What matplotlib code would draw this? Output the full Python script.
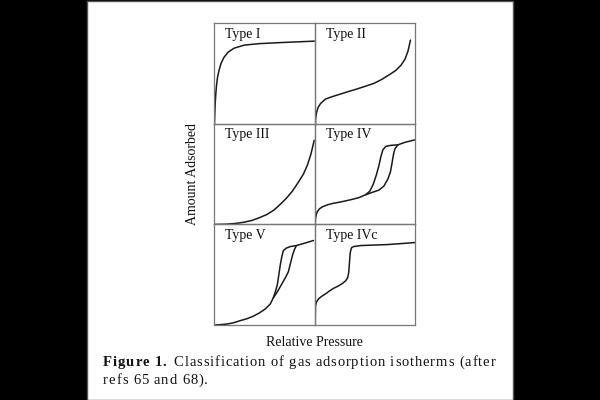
import matplotlib.pyplot as plt
from matplotlib.patches import Rectangle

plt.rcParams['font.family'] = ['Liberation Serif', 'DejaVu Serif']

# isotherm traces: relative pressure (0..1) vs amount adsorbed (0..1)
type1_x = [0.005, 0.008, 0.012, 0.018, 0.025, 0.035, 0.05, 0.07, 0.10, 0.14, 0.20, 0.30, 0.45, 0.65, 1.0]
type1_y = [0.0, 0.10, 0.20, 0.30, 0.38, 0.46, 0.53, 0.60, 0.66, 0.71, 0.75, 0.78, 0.795, 0.805, 0.82]

type2_x = [0.008, 0.012, 0.02, 0.035, 0.06, 0.11, 0.18, 0.26, 0.34, 0.42, 0.50, 0.59, 0.67, 0.75,
           0.81, 0.86, 0.90, 0.93, 0.955]
type2_y = [0.0, 0.06, 0.11, 0.16, 0.20, 0.245, 0.27, 0.295, 0.32, 0.344, 0.37, 0.40, 0.44, 0.49,
           0.53, 0.58, 0.64, 0.72, 0.83]

type3_x = [0.01, 0.12, 0.22, 0.30, 0.38, 0.46, 0.53, 0.60, 0.66, 0.72, 0.78, 0.84, 0.89, 0.93, 0.965, 0.997]
type3_y = [0.0, 0.002, 0.01, 0.022, 0.04, 0.07, 0.10, 0.145, 0.20, 0.26, 0.33, 0.42, 0.50, 0.59, 0.70, 0.835]

# Type IV: adsorption branch (right) and desorption branch (left)
type4_ads_x = [0.007, 0.01, 0.018, 0.03, 0.05, 0.08, 0.13, 0.19, 0.27, 0.36, 0.44, 0.51, 0.58, 0.64,
               0.69, 0.73, 0.755, 0.77, 0.785, 0.80, 0.83, 0.90, 1.0]
type4_ads_y = [0.0, 0.06, 0.10, 0.13, 0.155, 0.175, 0.195, 0.21, 0.225, 0.245, 0.265, 0.295, 0.32, 0.34,
               0.38, 0.45, 0.52, 0.60, 0.69, 0.75, 0.79, 0.815, 0.84]
type4_des_x = [0.51, 0.55, 0.585, 0.615, 0.64, 0.66, 0.68, 0.71, 0.76, 0.83]
type4_des_y = [0.295, 0.33, 0.40, 0.49, 0.58, 0.67, 0.74, 0.775, 0.785, 0.79]

# Type V: adsorption branch (right) and desorption branch (left)
type5_ads_x = [0.0, 0.06, 0.126, 0.19, 0.26, 0.33, 0.39, 0.45, 0.51, 0.56, 0.59, 0.63, 0.67, 0.71,
               0.74, 0.76, 0.78, 0.80, 0.82, 0.89, 0.99]
type5_ads_y = [0.0, 0.004, 0.01, 0.022, 0.044, 0.064, 0.088, 0.12, 0.16, 0.21, 0.27, 0.33, 0.40, 0.47,
               0.53, 0.61, 0.69, 0.75, 0.79, 0.81, 0.84]
type5_des_x = [0.59, 0.61, 0.63, 0.645, 0.66, 0.675, 0.69, 0.72, 0.76, 0.82]
type5_des_y = [0.27, 0.33, 0.40, 0.50, 0.60, 0.68, 0.74, 0.765, 0.78, 0.79]

type4c_x = [0.007, 0.008, 0.01, 0.02, 0.04, 0.07, 0.11, 0.15, 0.19, 0.24, 0.28, 0.31, 0.33, 0.34,
            0.345, 0.35, 0.355, 0.36, 0.37, 0.39, 0.46, 0.60, 0.73, 0.87, 1.0]
type4c_y = [0.0, 0.10, 0.19, 0.23, 0.26, 0.285, 0.31, 0.34, 0.365, 0.39, 0.415, 0.44, 0.47, 0.52,
            0.58, 0.65, 0.71, 0.74, 0.77, 0.78, 0.79, 0.795, 0.80, 0.81, 0.82]

titles = ['Type I', 'Type II', 'Type III', 'Type IV', 'Type V', 'Type IVc']
curves = [
    [(type1_x, type1_y)],
    [(type2_x, type2_y)],
    [(type3_x, type3_y)],
    [(type4_ads_x, type4_ads_y), (type4_des_x, type4_des_y)],
    [(type5_ads_x, type5_ads_y), (type5_des_x, type5_des_y)],
    [(type4c_x, type4c_y)],
]

W, H = 600, 400
fig = plt.figure(figsize=(6, 4), dpi=100, facecolor='black')

# white page strip in the middle (kept behind the axes)
fig.patches.append(Rectangle((87 / W, 0), 426 / W, 399 / H, transform=fig.transFigure,
                             facecolor='white', edgecolor='#555555', linewidth=1, zorder=-10))

# panel grid geometry in pixels
x0, pw = 214, 100.5
y0, ph = 23, 100.7

for i, title in enumerate(titles):
    row, col = divmod(i, 2)
    left = x0 + col * pw
    top = y0 + row * ph
    ax = fig.add_axes([left / W, 1 - (top + ph) / H, pw / W, ph / H])
    ax.set_facecolor('none')
    for xs, ys in curves[i]:
        ax.plot(xs, ys, color='#1a1a1a', linewidth=1.1,
                solid_capstyle='round', solid_joinstyle='round')
    ax.set_xlim(0, 1)
    ax.set_ylim(0, 1)
    ax.set_xticks([])
    ax.set_yticks([])
    for sp in ax.spines.values():
        sp.set_color('#777777')
        sp.set_linewidth(0.9)
    ax.text(0.11, 0.89, title, transform=ax.transAxes, fontsize=10,
            ha='left', va='center', color='#111111')

fig.text(192 / W, 1 - 174 / H, 'Amount Adsorbed', rotation=90, fontsize=10,
         ha='center', va='center', color='#111111')
fig.text(314 / W, 1 - 342 / H, 'Relative Pressure', fontsize=10,
         ha='center', va='center', color='#111111')

# caption is letter-spaced in the original, so lay it out glyph by glyph
fig.canvas.draw()
rend = fig.canvas.get_renderer()


def spaced(x, y, s, track=1.0, space=4.5, **kw):
    for word in s.split(' '):
        for ch in word:
            t = fig.text(x / W, 1 - y / H, ch, ha='left', va='baseline',
                         color='#111111', **kw)
            x += t.get_window_extent(rend).width + track
        x += space
    return x


xc = spaced(103, 366, 'Figure 1.', track=0.9, fontsize=10.5, fontweight='bold')
spaced(xc + 2, 366, 'Classification of gas adsorption isotherms (after',
       track=0.9, fontsize=10.5)
spaced(103, 384, 'refs 65 and 68).', track=0.9, fontsize=10.5)

fig.savefig('out.png', dpi=100, facecolor='black')
